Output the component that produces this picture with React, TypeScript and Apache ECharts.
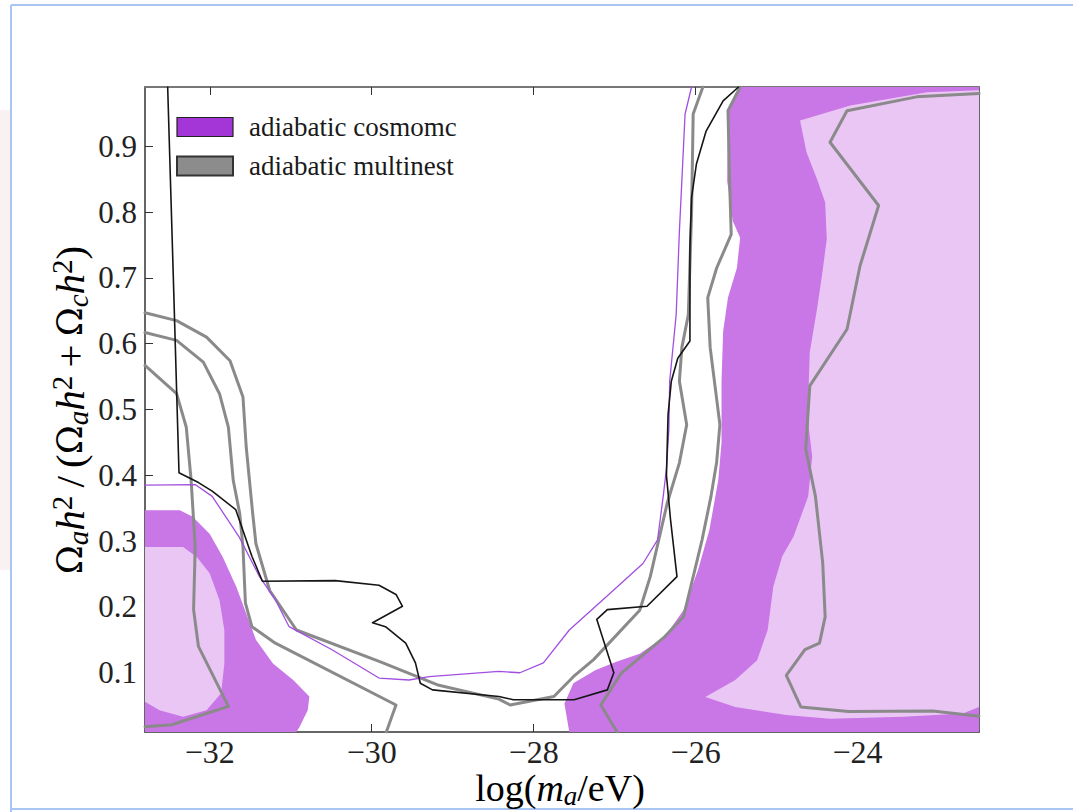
import React, { useEffect, useRef } from 'react';
import * as echarts from 'echarts';

// Axis extents and ticks
const X_MIN = -32.8;
const X_MAX = -22.5;
const Y_MIN = 0.01;
const Y_MAX = 0.99;
const xTicks = [-32, -30, -28, -26, -24];
const yTicks = [0.1, 0.2, 0.3, 0.4, 0.5, 0.6, 0.7, 0.8, 0.9];
const legendNames = ['adiabatic cosmomc', 'adiabatic multinest'];

// cosmomc filled regions (outer = dark, inner = light)
const cosmoDarkRight = [
  [-27.56, 0.01], [-27.62, 0.053], [-27.51, 0.084], [-27.24, 0.104], [-26.97, 0.117],
  [-26.69, 0.129], [-26.38, 0.155], [-26.15, 0.195], [-25.97, 0.256], [-25.83, 0.317],
  [-25.72, 0.393], [-25.68, 0.45], [-25.68, 0.543], [-25.66, 0.619], [-25.6, 0.67],
  [-25.49, 0.715], [-25.45, 0.761], [-25.54, 0.786], [-25.61, 0.847], [-25.6, 0.954],
  [-25.45, 0.99], [-22.5, 0.99], [-22.5, 0.01],
];
const cosmoLightRight = [
  [-24.71, 0.939], [-24.09, 0.962], [-23.14, 0.982], [-22.5, 0.985], [-22.5, 0.048],
  [-22.7, 0.038], [-23.43, 0.033], [-24.34, 0.03], [-24.88, 0.036], [-25.51, 0.048],
  [-25.88, 0.063], [-25.51, 0.089], [-25.24, 0.119], [-25.11, 0.165], [-25.04, 0.231],
  [-24.93, 0.277], [-24.79, 0.307], [-24.61, 0.368], [-24.56, 0.429], [-24.6, 0.47],
  [-24.61, 0.511], [-24.59, 0.587], [-24.5, 0.653], [-24.44, 0.703], [-24.38, 0.759],
  [-24.4, 0.815], [-24.5, 0.85], [-24.63, 0.891],
];
const cosmoDarkLeft = [
  [-32.8, 0.01], [-32.8, 0.347], [-32.37, 0.347], [-32.21, 0.337], [-32.0, 0.311],
  [-31.84, 0.276], [-31.67, 0.23], [-31.55, 0.19], [-31.43, 0.15], [-31.22, 0.114],
  [-30.97, 0.089], [-30.77, 0.064], [-30.79, 0.043], [-30.89, 0.018], [-30.93, 0.01],
];
const cosmoLightLeft = [
  [-32.8, 0.291], [-32.33, 0.291], [-32.16, 0.276], [-32.0, 0.251], [-31.88, 0.21],
  [-31.82, 0.165], [-31.82, 0.114], [-31.86, 0.069], [-32.04, 0.043], [-32.33, 0.033],
  [-32.62, 0.043], [-32.8, 0.056],
];

// multinest contours (grey)
const multiG1 = [
  [-32.8, 0.647], [-32.41, 0.635], [-32.04, 0.61], [-31.75, 0.574], [-31.59, 0.519],
  [-31.55, 0.443], [-31.47, 0.342], [-31.43, 0.296], [-31.26, 0.225], [-30.93, 0.165],
  [-29.9, 0.117], [-29.17, 0.081], [-28.43, 0.06], [-28.29, 0.051], [-27.75, 0.064],
  [-27.51, 0.094], [-27.26, 0.12], [-26.69, 0.195], [-26.56, 0.246], [-26.35, 0.358],
  [-26.2, 0.419], [-26.11, 0.477], [-26.2, 0.543], [-26.17, 0.594], [-26.09, 0.644],
  [-26.05, 0.797], [-26.03, 0.949], [-25.91, 0.99],
];
const multiG2 = [
  [-32.8, 0.617], [-32.41, 0.605], [-32.08, 0.572], [-31.88, 0.524], [-31.77, 0.473],
  [-31.71, 0.392], [-31.63, 0.342], [-31.59, 0.291], [-31.56, 0.206], [-31.48, 0.17],
  [-31.19, 0.145], [-29.7, 0.051], [-29.82, 0.01],
];
const multiG3 = [
  [-32.8, 0.567], [-32.41, 0.524], [-32.29, 0.473], [-32.23, 0.392], [-32.18, 0.291],
  [-32.2, 0.196], [-32.14, 0.14], [-31.77, 0.049], [-32.47, 0.021], [-32.8, 0.018],
];
const multiRight = [
  [-26.97, 0.01], [-27.17, 0.051], [-26.92, 0.099], [-26.38, 0.155], [-26.15, 0.185],
  [-26.01, 0.256], [-25.92, 0.302], [-25.81, 0.368], [-25.74, 0.42], [-25.7, 0.477],
  [-25.82, 0.594], [-25.85, 0.67], [-25.74, 0.715], [-25.56, 0.766], [-25.58, 0.847],
  [-25.6, 0.954], [-25.45, 0.99],
];
const multiFarRight = [
  [-22.5, 0.98], [-23.27, 0.975], [-24.13, 0.954], [-24.34, 0.906], [-23.74, 0.81],
  [-23.97, 0.718], [-24.13, 0.622], [-24.59, 0.536], [-24.64, 0.44], [-24.52, 0.368],
  [-24.43, 0.267], [-24.4, 0.185], [-24.47, 0.145], [-24.65, 0.135], [-24.88, 0.096],
  [-24.7, 0.048], [-24.11, 0.041], [-23.07, 0.042], [-22.5, 0.034],
];

// thin contours
const purpleLine = [
  [-32.8, 0.385], [-32.18, 0.386], [-31.97, 0.368], [-31.64, 0.307], [-31.39, 0.247],
  [-31.19, 0.211], [-31.02, 0.17], [-30.49, 0.135], [-29.91, 0.092], [-29.54, 0.089],
  [-29.29, 0.094], [-28.43, 0.102], [-28.17, 0.1], [-27.88, 0.115], [-27.56, 0.165],
  [-27.1, 0.216], [-26.65, 0.266], [-26.47, 0.302], [-26.4, 0.368], [-26.36, 0.41],
  [-26.33, 0.47], [-26.32, 0.543], [-26.24, 0.644], [-26.2, 0.771], [-26.17, 0.847],
  [-26.13, 0.949], [-26.05, 0.99],
];
const blackLine = [
  [-32.52, 0.99], [-32.45, 0.7], [-32.38, 0.404], [-32.14, 0.389], [-31.97, 0.376],
  [-31.68, 0.348], [-31.48, 0.277], [-31.35, 0.239], [-30.45, 0.24], [-29.91, 0.233],
  [-29.7, 0.219], [-29.62, 0.201], [-29.99, 0.176], [-29.83, 0.17], [-29.58, 0.145],
  [-29.46, 0.115], [-29.4, 0.084], [-29.25, 0.074], [-28.43, 0.064], [-28.25, 0.059],
  [-27.5, 0.059], [-27.09, 0.074], [-27.01, 0.1], [-27.22, 0.181], [-27.09, 0.196],
  [-26.6, 0.201], [-26.23, 0.246], [-26.31, 0.333], [-26.36, 0.4], [-26.34, 0.492],
  [-26.3, 0.543], [-26.22, 0.578], [-26.07, 0.604], [-26.07, 0.746], [-26.05, 0.822],
  [-25.99, 0.873], [-25.87, 0.923], [-25.66, 0.969], [-25.47, 0.99],
];

const FONT = "'Liberation Serif', 'DejaVu Serif', serif";
const DARK = '#c977e6';
const LIGHT = '#eac6f5';
const GREY = '#8a8a8a';
const INK = '#1a1a1a';

function polygonSeries(name: string, pts: number[][], color: string, z: number) {
  return {
    type: 'custom',
    name,
    coordinateSystem: 'cartesian2d',
    silent: true,
    z,
    data: pts,
    renderItem: (params: any, api: any) => {
      if (params.dataIndex !== 0) return null;
      return {
        type: 'polygon',
        shape: { points: pts.map((p) => api.coord(p)) },
        style: { fill: color, stroke: null },
      };
    },
  };
}

function lineSeries(name: string, pts: number[][], color: string, width: number, z: number) {
  return {
    type: 'line',
    name,
    data: pts,
    symbol: 'none',
    showSymbol: false,
    silent: true,
    z,
    lineStyle: { color, width, cap: 'round', join: 'round' },
  };
}

function mathRich(size: number) {
  const sub = Math.round(size * 0.7);
  return {
    n: { fontFamily: FONT, fontSize: size, color: INK, lineHeight: 32, verticalAlign: 'middle' },
    i: { fontFamily: FONT, fontSize: size, fontStyle: 'italic', color: INK, lineHeight: 32, verticalAlign: 'middle' },
    O: { fontFamily: "'DejaVu Serif', serif", fontSize: Math.round(size * 0.86), color: INK, lineHeight: 32, verticalAlign: 'middle' },
    s: { fontFamily: FONT, fontSize: sub, fontStyle: 'italic', color: INK, lineHeight: 16, verticalAlign: 'middle', padding: [16, 0, 0, 0] },
    p: { fontFamily: FONT, fontSize: sub, color: INK, lineHeight: 16, verticalAlign: 'middle', padding: [0, 0, 16, 0] },
  };
}

export default function App() {
  const ref = useRef<HTMLDivElement>(null);
  useEffect(() => {
    if (!ref.current) return;
    const chart = echarts.init(ref.current, null, { renderer: 'svg' });
    const tickFmt = (v: number) => String(v).replace('-', '\u2212');
    const axisLine = { show: true, lineStyle: { color: '#333', width: 1.5 } };
    chart.setOption({
      animation: false,
      backgroundColor: '#ffffff',
      grid: { left: 145, right: 94, top: 87, bottom: 80 },
      legend: {
        orient: 'vertical',
        left: 171,
        top: 107,
        itemWidth: 56,
        itemHeight: 19,
        itemGap: 9,
        selectedMode: false,
        textStyle: { fontFamily: FONT, fontSize: 27, color: INK, lineHeight: 30, padding: [0, 0, 0, 11] },
        data: [
          { name: legendNames[0], icon: 'rect', itemStyle: { color: '#a436d8', borderColor: '#222', borderWidth: 1.2 } },
          { name: legendNames[1], icon: 'rect', itemStyle: { color: '#8c8c8c', borderColor: '#333', borderWidth: 2 } },
        ],
      },
      xAxis: [
        {
          type: 'value', min: X_MIN, max: X_MAX, position: 'bottom',
          axisLine, splitLine: { show: false },
          axisTick: { show: true, inside: true, length: 8, customValues: xTicks, lineStyle: { color: '#333', width: 1 } },
          axisLabel: { show: true, customValues: xTicks, formatter: tickFmt, fontFamily: FONT, fontSize: 32, lineHeight: 28, color: '#222', margin: 6 },
        },
        {
          type: 'value', min: X_MIN, max: X_MAX, position: 'top',
          axisLine: { show: true, lineStyle: { color: '#777', width: 2 } }, splitLine: { show: false },
          axisTick: { show: true, inside: true, length: 8, customValues: xTicks, lineStyle: { color: '#333', width: 1 } },
          axisLabel: { show: false },
        },
      ],
      yAxis: [
        {
          type: 'value', min: Y_MIN, max: Y_MAX, position: 'left',
          axisLine, splitLine: { show: false },
          axisTick: { show: true, inside: true, length: 8, customValues: yTicks, lineStyle: { color: '#333', width: 1 } },
          axisLabel: { show: true, customValues: yTicks, formatter: (v: number) => v.toFixed(1), fontFamily: FONT, fontSize: 31, color: '#222', margin: 8 },
        },
        {
          type: 'value', min: Y_MIN, max: Y_MAX, position: 'right',
          axisLine, splitLine: { show: false },
          axisTick: { show: true, inside: true, length: 8, customValues: yTicks, lineStyle: { color: '#333', width: 1 } },
          axisLabel: { show: false },
        },
      ],
      series: [
        polygonSeries(legendNames[0], cosmoDarkRight, DARK, 1),
        polygonSeries('cosmomc dark left', cosmoDarkLeft, DARK, 1),
        polygonSeries('cosmomc light right', cosmoLightRight, LIGHT, 2),
        polygonSeries('cosmomc light left', cosmoLightLeft, LIGHT, 2),
        lineSeries(legendNames[1], multiG1, GREY, 3, 3),
        lineSeries('multinest 2', multiG2, GREY, 3, 3),
        lineSeries('multinest 3', multiG3, GREY, 3, 3),
        lineSeries('multinest right', multiRight, GREY, 3, 3),
        lineSeries('multinest far right', multiFarRight, GREY, 3, 3),
        lineSeries('cosmomc thin', purpleLine, '#a24ee0', 1.3, 4),
        lineSeries('black thin', blackLine, '#151515', 1.6, 5),
      ],
      graphic: [
        { type: 'rect', silent: true, shape: { x: 0, y: 110, width: 10, height: 460 }, style: { fill: 'rgba(225,170,170,0.16)' } },
        { type: 'line', silent: true, shape: { x1: 11, y1: 5, x2: 11, y2: 812 }, style: { stroke: '#a9c5f3', lineWidth: 2 } },
        { type: 'line', silent: true, shape: { x1: 11, y1: 5, x2: 1073, y2: 5 }, style: { stroke: '#a9c5f3', lineWidth: 2 } },
        { type: 'line', silent: true, shape: { x1: 11, y1: 809, x2: 1073, y2: 809 }, style: { stroke: '#a9c5f3', lineWidth: 2 } },
        {
          type: 'text', silent: true, x: 560, y: 788,
          style: {
            text: '{n|log(}{i|m}{s|a}{n|/eV)}',
            rich: mathRich(38), align: 'center', verticalAlign: 'middle',
          },
        },
        {
          type: 'text', silent: true, x: 70, y: 410, rotation: Math.PI / 2,
          style: {
            text: '{O|Ω}{s|a}{i|h}{p|2}{n|\u2009/\u2009(}{O|Ω}{s|a}{i|h}{p|2}{n|\u2009+\u2009}{O|Ω}{s|c}{i|h}{p|2}{n|)}',
            rich: mathRich(41), align: 'center', verticalAlign: 'middle',
          },
        },
      ],
    });
    return () => chart.dispose();
  }, []);
  return <div ref={ref} style={{ position: 'fixed', left: 0, top: 0, width: 1073, height: 812, background: '#fff' }} />;
}
